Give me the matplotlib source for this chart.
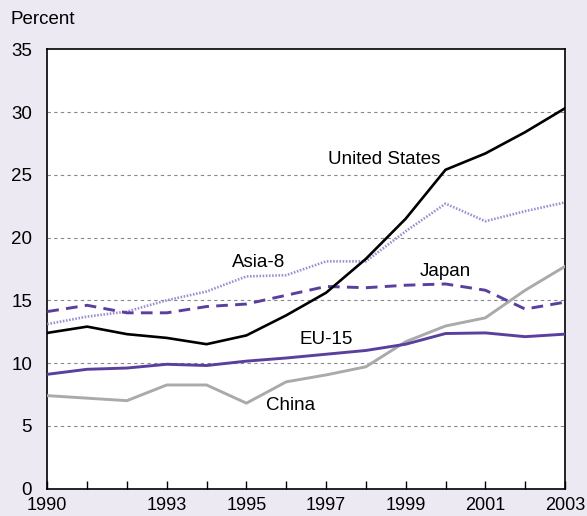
import matplotlib
matplotlib.use("Agg")
import matplotlib.pyplot as plt

plt.rcParams['font.family'] = ['Liberation Sans', 'DejaVu Sans']

years = list(range(1990, 2004))
tick_years = [1990, 1993, 1995, 1997, 1999, 2001, 2003]

united_states = [12.4, 12.9, 12.3, 12.0, 11.5, 12.2, 13.8, 15.6, 18.3, 21.5, 25.4, 26.7, 28.4, 30.3]
asia_8 = [13.1, 13.7, 14.1, 15.0, 15.7, 16.9, 17.0, 18.1, 18.1, 20.5, 22.7, 21.3, 22.1, 22.8]
japan = [14.1, 14.6, 14.0, 14.0, 14.5, 14.7, 15.4, 16.1, 16.0, 16.2, 16.3, 15.8, 14.3, 14.85]
eu_15 = [9.1, 9.5, 9.6, 9.9, 9.8, 10.15, 10.4, 10.7, 11.0, 11.5, 12.35, 12.4, 12.1, 12.3]
china = [7.4, 7.2, 7.0, 8.25, 8.25, 6.8, 8.5, 9.05, 9.7, 11.7, 12.95, 13.6, 15.8, 17.7]

bg = '#ece9f3'
purple = '#5b3f9e'

fig = plt.figure(figsize=(5.87, 5.16), dpi=100, facecolor=bg)
ax = fig.add_axes([47.3 / 587, (516 - 488.5) / 516, (565 - 47.3) / 587, (488.5 - 49.3) / 516])
ax.set_facecolor('white')

for y in range(5, 35, 5):
    ax.axhline(y, color='#888888', lw=0.8, ls=(0, (3, 3)), zorder=1)

ax.plot(years, china, color='#aaaaaa', lw=2.1, zorder=3)
ax.plot(years, eu_15, color=purple, lw=2.1, zorder=4)
ax.plot(years, japan, color=purple, lw=2.1, ls=(0, (4, 2.5)), zorder=4)
ax.plot(years, asia_8, color='#9c8fd0', lw=1.9, ls=(0, (0.6, 0.6)), zorder=3)
ax.plot(years, united_states, color='black', lw=1.9, zorder=5)

ax.set_xlim(1990, 2003)
ax.set_ylim(0, 35)
ax.set_yticks(range(0, 40, 5))
ax.set_xticks(years)
ax.set_xticklabels([str(y) if y in tick_years else '' for y in years])
ax.tick_params(axis='x', direction='in', length=6, width=1, pad=6, labelsize=13)
ax.tick_params(axis='y', length=0, pad=11, labelsize=13.5)
for s in ax.spines.values():
    s.set_linewidth(1.2)

ax.text(1998.45, 26.2, 'United States', fontsize=13.5, ha='center', va='center')
ax.text(1995.3, 18.0, 'Asia-8', fontsize=13.5, ha='center', va='center')
ax.text(2000.0, 17.3, 'Japan', fontsize=13.5, ha='center', va='center')
ax.text(1997.0, 11.9, 'EU-15', fontsize=13.5, ha='center', va='center')
ax.text(1996.1, 6.65, 'China', fontsize=13.5, ha='center', va='center')

fig.text(10 / 587, 1 - 20 / 516, 'Percent', fontsize=13.5, ha='left', va='center')

fig.savefig('out.png', dpi=100, facecolor=bg)
